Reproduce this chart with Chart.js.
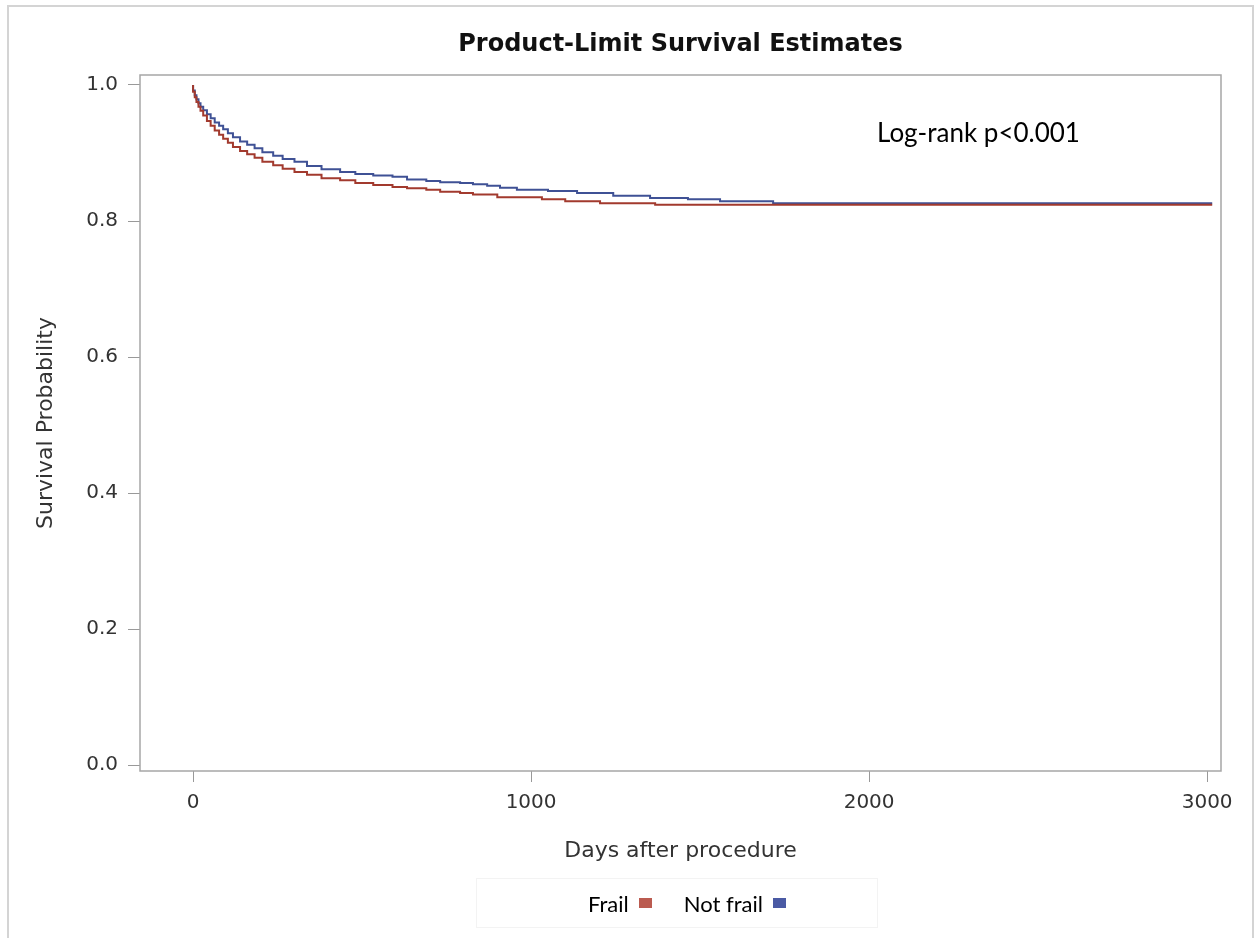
<!DOCTYPE html>
<html lang="en">
<head>
  <meta charset="UTF-8" />
  <title>Product-Limit Survival Estimates</title>
  <script src="https://cdn.jsdelivr.net/npm/chart.js"></script>
  <style>
    html, body { margin: 0; padding: 0; background: #fff; overflow: hidden; }
    .frame {
      position: absolute; left: 7px; top: 5px; width: 1243px; height: 960px;
      border: 2px solid #d4d4d4; border-bottom: none;
    }
    .chart-wrap { position: absolute; left: 0; top: 0; width: 1258px; height: 938px; }
    .note {
      position: absolute; left: 877px; top: 116px;
      font: 26px Lato, "Open Sans", sans-serif; color: #000;
    }
    .legend {
      position: absolute; left: 476px; top: 878px; width: 402px; height: 50px;
      border: 1px solid #f3f3f3; box-sizing: border-box; padding-left: 20px;
      display: flex; justify-content: center; align-items: center;
      font: 22px Lato, "Open Sans", sans-serif; color: #000;
    }
    .legend .item { display: flex; align-items: center; margin: 0 16px; }
    .legend .swatch { display: inline-block; width: 13px; height: 10px; margin-left: 10px; }
  </style>
</head>
<body>
  <div class="frame"></div>
  <div class="chart-wrap"><canvas id="kmChart" width="1258" height="938"></canvas></div>
  <div class="note">Log-rank p&lt;0.001</div>
  <div class="legend" id="legend"></div>

  <script>
    // Kaplan-Meier step points
    const frailDays = [0, 5, 10, 16, 22, 30, 41, 52, 64, 77, 89, 103, 118, 139, 160, 182, 205, 237, 265, 300,
      337, 380, 435, 480, 533, 590, 633, 690, 731, 790, 828, 900, 1032, 1101, 1204, 1367, 1550, 3015];
    const frailSurv = [1.000, 0.990, 0.982, 0.975, 0.968, 0.962, 0.955, 0.947, 0.940, 0.933, 0.927, 0.921, 0.915,
      0.909, 0.903, 0.898, 0.893, 0.887, 0.882, 0.877, 0.872, 0.868, 0.863, 0.860, 0.856, 0.853, 0.850, 0.848,
      0.846, 0.843, 0.841, 0.839, 0.835, 0.832, 0.829, 0.826, 0.824, 0.824];

    const notFrailDays = [0, 5, 10, 16, 22, 30, 41, 52, 64, 77, 89, 103, 118, 139, 160, 182, 205, 237, 265, 300,
      337, 380, 435, 480, 533, 590, 633, 690, 731, 790, 828, 870, 908, 958, 1050, 1136, 1243, 1352, 1464, 1559,
      1716, 1893, 3015];
    const notFrailSurv = [1.000, 0.992, 0.985, 0.979, 0.973, 0.968, 0.963, 0.957, 0.951, 0.945, 0.940, 0.935,
      0.929, 0.923, 0.917, 0.912, 0.907, 0.901, 0.896, 0.891, 0.887, 0.881, 0.876, 0.872, 0.869, 0.867, 0.865,
      0.861, 0.859, 0.857, 0.856, 0.854, 0.852, 0.849, 0.846, 0.844, 0.841, 0.837, 0.834, 0.832, 0.829, 0.826,
      0.826];

    const groupLabels = ['Frail', 'Not frail'];
    const lineColors = ['#A23A2E', '#3F5195'];
    const swatchColors = ['#BB5B50', '#4A5AA4'];

    const xTicks = [0, 1000, 2000, 3000];
    const yTicks = [0.0, 0.2, 0.4, 0.6, 0.8, 1.0];

    const toPoints = (xs, ys) => xs.map((x, i) => ({ x: x, y: ys[i] }));

    // frame around the plot area
    const plotFrame = {
      id: 'plotFrame',
      beforeDatasetsDraw(chart) {
        const { ctx, chartArea: a } = chart;
        ctx.save();
        ctx.strokeStyle = '#a6a6a6';
        ctx.lineWidth = 1.5;
        ctx.strokeRect(a.left, a.top, a.right - a.left, a.bottom - a.top);
        ctx.restore();
      }
    };

    const axisFont = { family: '"DejaVu Sans", sans-serif', size: 20 };
    const titleFont = { family: '"DejaVu Sans", sans-serif', size: 22 };

    const chart = new Chart(document.getElementById('kmChart'), {
      type: 'line',
      data: {
        datasets: [
          {
            label: groupLabels[0],
            data: toPoints(frailDays, frailSurv),
            borderColor: lineColors[0],
            borderWidth: 2,
            stepped: 'after',
            pointRadius: 0,
            fill: false,
            order: 1
          },
          {
            label: groupLabels[1],
            data: toPoints(notFrailDays, notFrailSurv),
            borderColor: lineColors[1],
            borderWidth: 2,
            stepped: 'after',
            pointRadius: 0,
            fill: false,
            order: 2
          }
        ]
      },
      options: {
        responsive: false,
        animation: false,
        layout: { padding: { left: 8, right: 37, top: 75, bottom: 72 } },
        plugins: {
          legend: { display: false },
          tooltip: { enabled: false },
          title: { display: false }
        },
        scales: {
          x: {
            type: 'linear',
            min: -157,
            max: 3041,
            afterBuildTicks: s => { s.ticks = xTicks.map(v => ({ value: v })); },
            afterFit: s => { s.height = 95; },
            grid: { drawOnChartArea: false, drawTicks: true, tickLength: 11, color: '#999' },
            border: { display: false },
            ticks: { font: axisFont, color: '#333', padding: 9, maxRotation: 0, callback: v => String(v) },
            title: {
              display: true, text: 'Days after procedure', color: '#333',
              font: titleFont, padding: { top: 0, bottom: 2 }
            }
          },
          y: {
            type: 'linear',
            min: -0.0088,
            max: 1.0147,
            afterBuildTicks: s => { s.ticks = yTicks.map(v => ({ value: v })); },
            afterFit: s => { s.width = 132; },
            grid: { drawOnChartArea: false, drawTicks: true, tickLength: 12, color: '#999' },
            border: { display: false },
            ticks: { font: axisFont, color: '#333', padding: 10, callback: v => Number(v).toFixed(1) },
            title: {
              display: true, text: 'Survival Probability', color: '#333',
              font: titleFont, padding: { top: 25, bottom: 0 }
            }
          }
        }
      },
      plugins: [plotFrame, {
        id: 'chartTitle',
        afterDraw(c) {
          const { ctx, chartArea: a } = c;
          ctx.save();
          ctx.font = 'bold 24px "DejaVu Sans", sans-serif';
          ctx.fillStyle = '#111';
          ctx.textAlign = 'center';
          ctx.textBaseline = 'middle';
          ctx.fillText('Product-Limit Survival Estimates', (a.left + a.right) / 2, 45);
          ctx.restore();
        }
      }]
    });

    // legend: label then swatch, like the original
    document.getElementById('legend').innerHTML = chart.data.datasets.map((d, i) =>
      `<span class="item">${d.label}<span class="swatch" style="background:${swatchColors[i]}"></span></span>`
    ).join('');
  </script>
</body>
</html>
